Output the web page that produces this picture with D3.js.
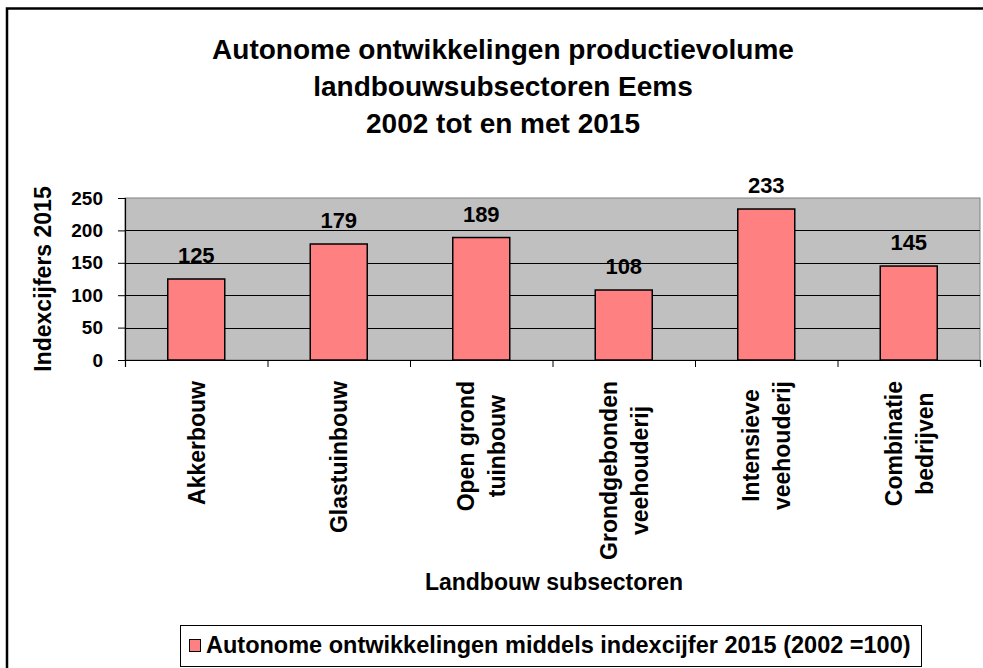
<!DOCTYPE html>
<html>
<head>
<meta charset="utf-8">
<script src="https://cdn.jsdelivr.net/npm/d3@7"></script>
<style>
  html, body { margin: 0; padding: 0; background: #fff; }
  svg { display: block; font-family: "Liberation Sans", Arial, sans-serif; font-weight: bold; }
</style>
</head>
<body>
<svg id="chart" width="983" height="668"></svg>
<script>
// Chart data
const titleLines = ["Autonome ontwikkelingen productievolume", "landbouwsubsectoren Eems", "2002 tot en met 2015"];
const categories = ["Akkerbouw", "Glastuinbouw", "Open grond tuinbouw", "Grondgebonden veehouderij", "Intensieve veehouderij", "Combinatie bedrijven"];
const categoryLines = [["Akkerbouw"], ["Glastuinbouw"], ["Open grond", "tuinbouw"], ["Grondgebonden", "veehouderij"], ["Intensieve", "veehouderij"], ["Combinatie", "bedrijven"]];
const values = [125, 179, 189, 108, 233, 145];
const yTicks = [0, 50, 100, 150, 200, 250];
const yTitle = "Indexcijfers 2015";
const xTitle = "Landbouw subsectoren";
const seriesName = "Autonome ontwikkelingen middels indexcijfer 2015 (2002 =100)";

const svg = d3.select("#chart");

// Outer chart frame
svg.append("rect")
  .attr("x", 7).attr("y", 8.5).attr("width", 1000).attr("height", 700)
  .attr("fill", "#fff").attr("stroke", "#000").attr("stroke-width", 2.5);

// Title
svg.append("g").selectAll("text").data(titleLines).join("text")
  .attr("x", 503)
  .attr("y", (d, i) => 59 + i * 37)
  .attr("text-anchor", "middle")
  .attr("font-size", 28)
  .text(d => d);

// Plot area
const plot = { left: 125, right: 980, top: 198, bottom: 360 };

const x = d3.scaleBand()
  .domain(categories)
  .range([plot.left, plot.right])
  .paddingInner(0.6)
  .paddingOuter(0.3);

const y = d3.scaleLinear()
  .domain([0, 250])
  .range([plot.bottom, plot.top]);

svg.append("rect")
  .attr("x", plot.left).attr("y", plot.top)
  .attr("width", plot.right - plot.left).attr("height", plot.bottom - plot.top)
  .attr("fill", "#C0C0C0").attr("stroke", "#808080").attr("stroke-width", 1);

// Horizontal gridlines
svg.append("g").selectAll("line")
  .data(yTicks.filter(t => t > 0 && t < 250))
  .join("line")
  .attr("x1", plot.left).attr("x2", plot.right)
  .attr("y1", d => Math.round(y(d)) + 0.5).attr("y2", d => Math.round(y(d)) + 0.5)
  .attr("stroke", "#000").attr("stroke-width", 1);

// Bars
svg.append("g").selectAll("rect")
  .data(values)
  .join("rect")
  .attr("x", (d, i) => x(categories[i]))
  .attr("y", d => y(d))
  .attr("width", x.bandwidth())
  .attr("height", d => y(0) - y(d))
  .attr("fill", "#FF8080")
  .attr("stroke", "#000")
  .attr("stroke-width", 1.5);

// Value labels
svg.append("g").selectAll("text")
  .data(values)
  .join("text")
  .attr("x", (d, i) => x(categories[i]) + x.bandwidth() / 2)
  .attr("y", d => y(d) - 16)
  .attr("text-anchor", "middle")
  .attr("font-size", 22)
  .text(d => d);

// Y axis
const yAxis = svg.append("g")
  .attr("transform", `translate(${plot.left},0)`)
  .call(d3.axisLeft(y).tickValues(yTicks).tickSize(7).tickPadding(15));
yAxis.select(".domain").attr("stroke", "#000").attr("stroke-width", 1.2);
yAxis.selectAll(".tick line").attr("stroke", "#000");
yAxis.selectAll(".tick text")
  .attr("font-size", 19)
  .attr("font-family", "Liberation Sans, Arial, sans-serif")
  .attr("font-weight", "bold")
  .attr("fill", "#000");

// X axis: ticks at category boundaries
const xEdges = d3.scaleLinear().domain([0, categories.length]).range([plot.left, plot.right]);
const xAxis = svg.append("g")
  .attr("transform", `translate(0,${plot.bottom})`)
  .call(d3.axisBottom(xEdges).tickValues(d3.range(categories.length + 1)).tickSize(7).tickFormat(""));
xAxis.select(".domain").attr("stroke", "#000").attr("stroke-width", 1.2);
xAxis.selectAll(".tick line").attr("stroke", "#000");

// Category labels, rotated, block top aligned below the axis
const labelTop = 381;
const lineStep = 31;
categoryLines.forEach((lines, ci) => {
  const cx = x(categories[ci]) + x.bandwidth() / 2;
  const g = svg.append("g");
  const texts = lines.map((line, i) => g.append("text")
    .attr("font-size", 23)
    .attr("text-anchor", "middle")
    .text(line));
  const maxLen = d3.max(texts, t => t.node().getComputedTextLength());
  const cy = labelTop + maxLen / 2;
  texts.forEach((t, i) => {
    const bx = cx + 8.5 + (i - (lines.length - 1) / 2) * lineStep;
    t.attr("transform", `translate(${bx},${cy}) rotate(-90)`);
  });
});

// Axis titles
svg.append("text")
  .attr("transform", `translate(51,${(plot.top + plot.bottom) / 2}) rotate(-90)`)
  .attr("text-anchor", "middle")
  .attr("font-size", 23)
  .text(yTitle);

svg.append("text")
  .attr("x", 554).attr("y", 590)
  .attr("text-anchor", "middle")
  .attr("font-size", 23)
  .text(xTitle);

// Legend
const legend = svg.append("g");
legend.append("rect")
  .attr("x", 180.5).attr("y", 625.5).attr("width", 741).attr("height", 41)
  .attr("fill", "#fff").attr("stroke", "#000").attr("stroke-width", 1);
legend.append("rect")
  .attr("x", 189.5).attr("y", 639.5).attr("width", 11).attr("height", 12)
  .attr("fill", "#FF8080").attr("stroke", "#000").attr("stroke-width", 1);
legend.append("text")
  .attr("x", 206).attr("y", 653)
  .attr("font-size", 23.5)
  .text(seriesName);
</script>
</body>
</html>
